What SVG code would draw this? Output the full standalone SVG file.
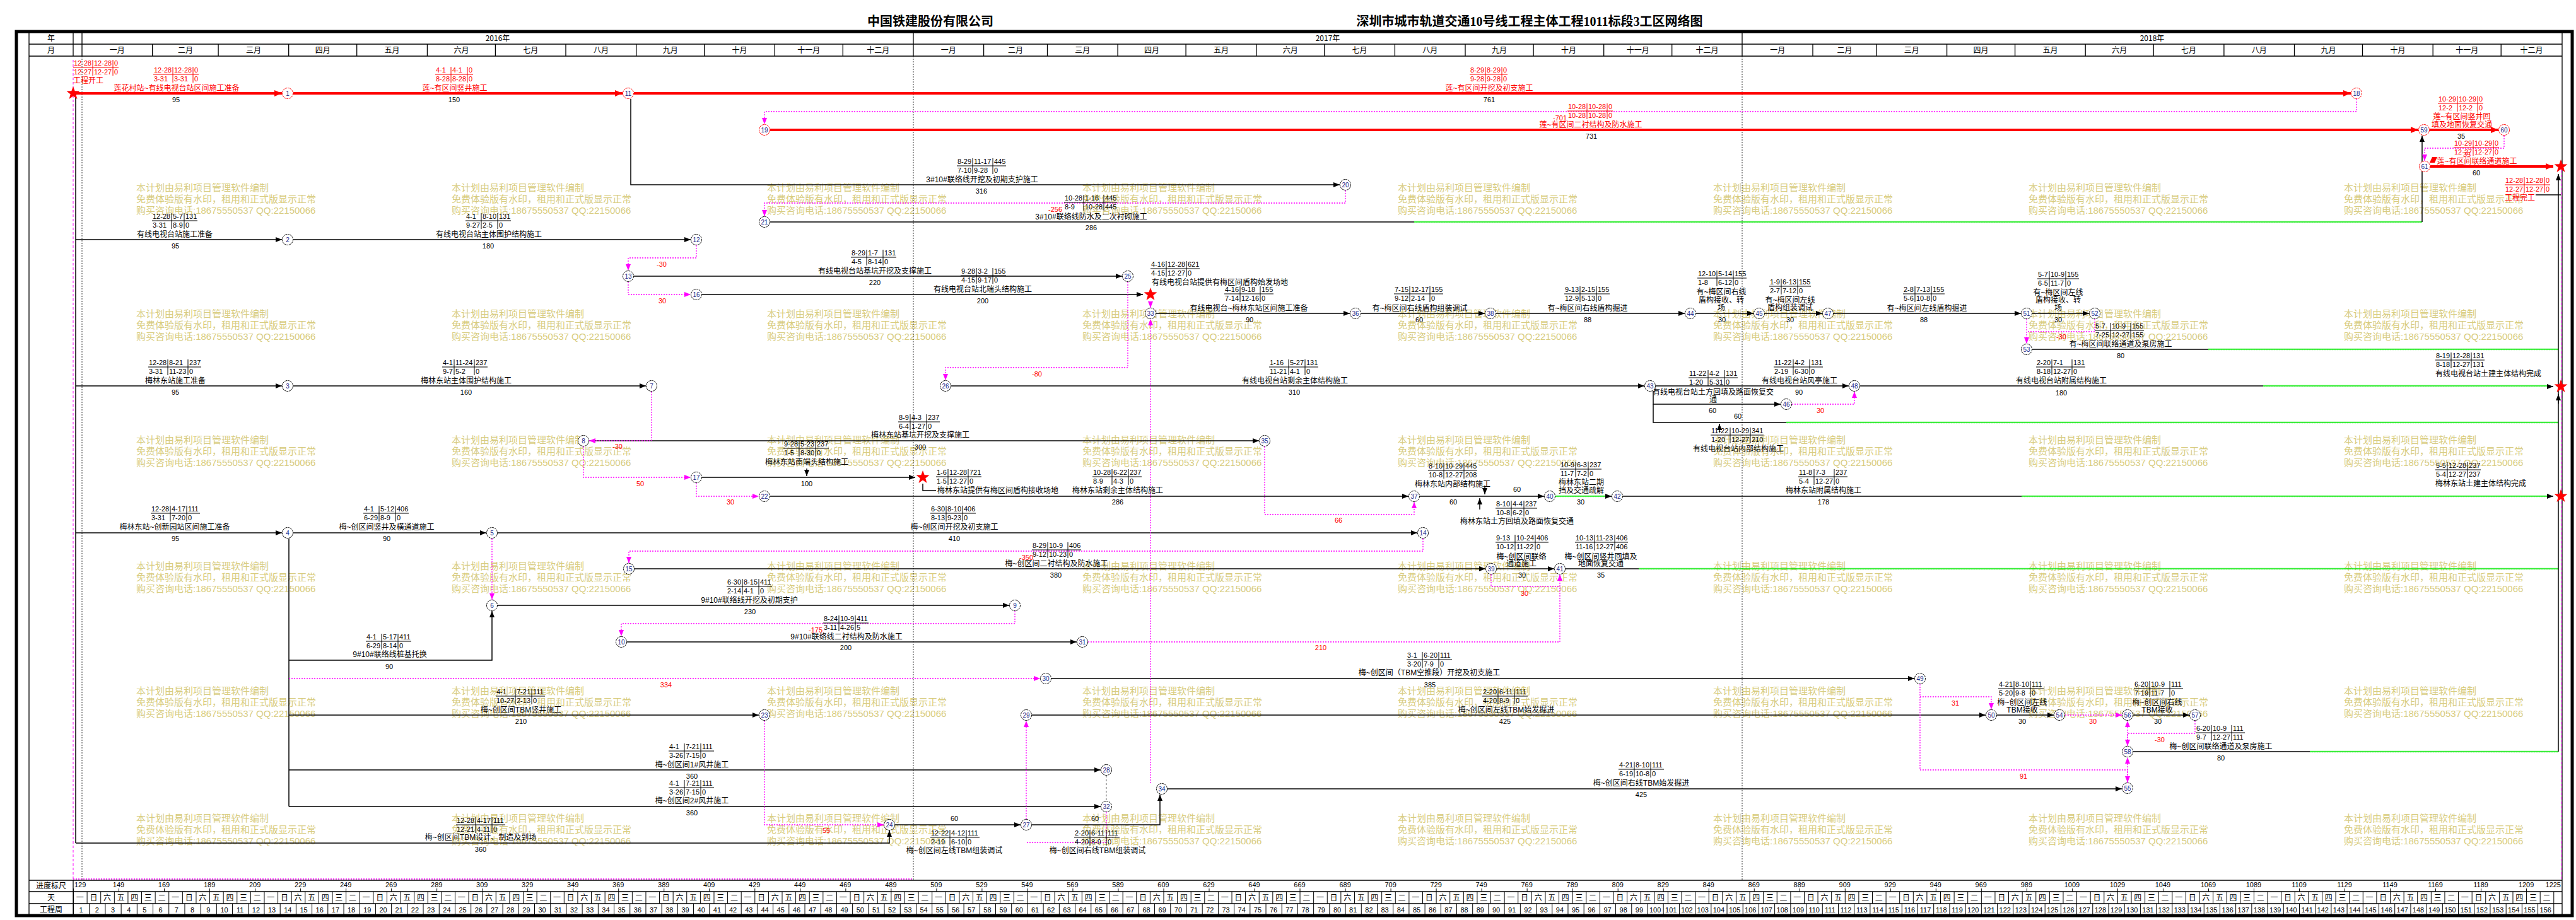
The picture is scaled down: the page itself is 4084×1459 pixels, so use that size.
<svg xmlns="http://www.w3.org/2000/svg" width="4084" height="1459" viewBox="0 0 4084 1459">
<style>
text{font-family:"Liberation Sans","Noto Sans CJK SC",sans-serif}
.l{font-size:12px;text-anchor:middle;fill:#000}
.ls{font-size:12px;fill:#000}
.r{fill:#f00}
.d{font-size:11px;text-anchor:middle;fill:#000}
.g{font-size:11px;text-anchor:middle;fill:#f00}
.tb path{stroke:#000;stroke-width:1;fill:none}
.tb text{font-size:11px;fill:#000}
.tbr path{stroke:#f00}
.tbr text{fill:#f00}
.nd circle{fill:#fff;stroke:#000;stroke-width:1;stroke-dasharray:3 1}
.nr circle{stroke:#f00}
.nd text{font-size:10px;text-anchor:middle;fill:#1a2a8a}
.a{fill:none;stroke:#000;stroke-width:1.5}
.c{fill:none;stroke:#f00;stroke-width:4}
.v{fill:none;stroke:#f0f;stroke-width:1.3;stroke-dasharray:2 2}
.dg{fill:none;stroke:#666;stroke-width:1;stroke-dasharray:3 3}
.h{font-size:12px;text-anchor:middle;fill:#000;font-family:"Noto Sans CJK SC",sans-serif}
.ln{stroke:#000;stroke-width:1.3;fill:none}
.yl{stroke:#000;stroke-width:0.8;stroke-dasharray:2 2;fill:none}
</style>
<defs>
<marker id="ab" viewBox="0 0 10 8" refX="10" refY="4" markerWidth="10" markerHeight="8" markerUnits="userSpaceOnUse" orient="auto"><path d="M0,0L10,4L0,8z" fill="#000"/></marker>
<marker id="ar" viewBox="0 0 12 10" refX="12" refY="5" markerWidth="12" markerHeight="10" markerUnits="userSpaceOnUse" orient="auto"><path d="M0,0L12,5L0,10z" fill="#f00"/></marker>
<marker id="am" viewBox="0 0 10 8" refX="10" refY="4" markerWidth="10" markerHeight="8" markerUnits="userSpaceOnUse" orient="auto"><path d="M0,0L10,4L0,8z" fill="#f0f"/></marker>
<polygon id="st" points="0,-11 2.65,-3.64 10.46,-3.4 4.28,1.39 6.47,8.9 0,4.5 -6.47,8.9 -4.28,1.39 -10.46,-3.4 -2.65,-3.64" fill="#f00"/>
<pattern id="wv" patternUnits="userSpaceOnUse" x="0" y="-2" width="4" height="4"><path d="M0,3.2L1,0.8L2,3.2L3,0.8L4,3.2" fill="none" stroke="#00e600" stroke-width="0.9"/></pattern>
<pattern id="pd" patternUnits="userSpaceOnUse" x="116" y="0" width="21.606" height="1459"><path d="M0.5,0V1459" stroke="#000" stroke-width="1"/></pattern>
<pattern id="pw" patternUnits="userSpaceOnUse" x="116" y="0" width="25.207" height="1459"><path d="M0.5,0V1459" stroke="#000" stroke-width="1"/></pattern>
<pattern id="pt" patternUnits="userSpaceOnUse" x="116" y="0" width="72.02" height="1459"><path d="M0.5,0V1459" stroke="#000" stroke-width="1"/></pattern>
<g id="wm" font-size="15" fill="#d8cc80" font-family="Noto Sans CJK SC, sans-serif"><text y="5">本计划由易利项目管理软件编制</text><text y="23">免费体验版有水印，租用和正式版显示正常</text><text y="41">购买咨询电话:18675550537 QQ:22150066</text></g>
</defs>
<rect width="4084" height="1459" fill="#fff"/>
<g id="watermarks">
<use href="#wm" x="216" y="298"/><use href="#wm" x="716" y="298"/><use href="#wm" x="1216" y="298"/><use href="#wm" x="1716" y="298"/><use href="#wm" x="2216" y="298"/><use href="#wm" x="2716" y="298"/><use href="#wm" x="3216" y="298"/><use href="#wm" x="3716" y="298"/>
<use href="#wm" x="216" y="498"/><use href="#wm" x="716" y="498"/><use href="#wm" x="1216" y="498"/><use href="#wm" x="1716" y="498"/><use href="#wm" x="2216" y="498"/><use href="#wm" x="2716" y="498"/><use href="#wm" x="3216" y="498"/><use href="#wm" x="3716" y="498"/>
<use href="#wm" x="216" y="698"/><use href="#wm" x="716" y="698"/><use href="#wm" x="1216" y="698"/><use href="#wm" x="1716" y="698"/><use href="#wm" x="2216" y="698"/><use href="#wm" x="2716" y="698"/><use href="#wm" x="3216" y="698"/><use href="#wm" x="3716" y="698"/>
<use href="#wm" x="216" y="898"/><use href="#wm" x="716" y="898"/><use href="#wm" x="1216" y="898"/><use href="#wm" x="1716" y="898"/><use href="#wm" x="2216" y="898"/><use href="#wm" x="2716" y="898"/><use href="#wm" x="3216" y="898"/><use href="#wm" x="3716" y="898"/>
<use href="#wm" x="216" y="1096"/><use href="#wm" x="716" y="1096"/><use href="#wm" x="1216" y="1096"/><use href="#wm" x="1716" y="1096"/><use href="#wm" x="2216" y="1096"/><use href="#wm" x="2716" y="1096"/><use href="#wm" x="3216" y="1096"/><use href="#wm" x="3716" y="1096"/>
<use href="#wm" x="216" y="1298"/><use href="#wm" x="716" y="1298"/><use href="#wm" x="1216" y="1298"/><use href="#wm" x="1716" y="1298"/><use href="#wm" x="2216" y="1298"/><use href="#wm" x="2716" y="1298"/><use href="#wm" x="3216" y="1298"/><use href="#wm" x="3716" y="1298"/>
</g>
<g id="title">
<text x="1475" y="41" style="font-size:20px;font-weight:bold;text-anchor:middle;font-family:'Liberation Serif','Noto Sans CJK SC',serif">中国铁建股份有限公司</text>
<text x="2425" y="41" style="font-size:20px;font-weight:bold;text-anchor:middle;font-family:'Liberation Serif','Noto Sans CJK SC',serif">深圳市城市轨道交通10号线工程主体工程1011标段3工区网络图</text>
</g>
<g id="frame">
<rect x="26" y="50" width="4052" height="1402" fill="none" stroke="#000" stroke-width="5"/>
<path class="ln" d="M46,52V1452M4062,52V1452M46,70H4062M46,89H4062M116,52V89M130,52V89M1448,52V89M2762,52V89"/>
<path class="ln" d="M241.6,70V89M346.1,70V89M457.7,70V89M565.7,70V89M677.4,70V89M785.4,70V89M897,70V89M1008.7,70V89M1116.7,70V89M1228.3,70V89M1336.3,70V89M1559.6,70V89M1660.5,70V89M1772.1,70V89M1880.1,70V89M1991.8,70V89M2099.8,70V89M2211.4,70V89M2323,70V89M2431.1,70V89M2542.7,70V89M2650.7,70V89M2874,70V89M2974.9,70V89M3086.6,70V89M3194.6,70V89M3306.2,70V89M3414.2,70V89M3525.9,70V89M3637.5,70V89M3745.5,70V89M3857.2,70V89M3965.2,70V89"/>
<text class="h" x="81" y="65">年</text><text class="h" x="81" y="84">月</text>
<text class="h" y="65"><tspan x="789">2016年</tspan><tspan x="2105">2017年</tspan><tspan x="3412">2018年</tspan></text>
<text class="h" y="84"><tspan x="185.8">一月</tspan><tspan x="293.9">二月</tspan><tspan x="401.9">三月</tspan><tspan x="511.7">四月</tspan><tspan x="621.6">五月</tspan><tspan x="731.4">六月</tspan><tspan x="841.2">七月</tspan><tspan x="952.9">八月</tspan><tspan x="1062.7">九月</tspan><tspan x="1172.5">十月</tspan><tspan x="1282.3">十一月</tspan><tspan x="1392.2">十二月</tspan><tspan x="1503.8">一月</tspan><tspan x="1610.1">二月</tspan><tspan x="1716.3">三月</tspan><tspan x="1826.1">四月</tspan><tspan x="1936">五月</tspan><tspan x="2045.8">六月</tspan><tspan x="2155.6">七月</tspan><tspan x="2267.2">八月</tspan><tspan x="2377.1">九月</tspan><tspan x="2486.9">十月</tspan><tspan x="2596.7">十一月</tspan><tspan x="2706.6">十二月</tspan><tspan x="2818.2">一月</tspan><tspan x="2924.5">二月</tspan><tspan x="3030.8">三月</tspan><tspan x="3140.6">四月</tspan><tspan x="3250.4">五月</tspan><tspan x="3360.2">六月</tspan><tspan x="3470.1">七月</tspan><tspan x="3581.7">八月</tspan><tspan x="3691.5">九月</tspan><tspan x="3801.4">十月</tspan><tspan x="3911.2">十一月</tspan><tspan x="4013.6">十二月</tspan></text>
<path class="yl" d="M130,89V1396M1448,89V1396M2762,89V1396"/>
<path d="M116,95V1396M4061,270V1396" fill="none" stroke="#f0f" stroke-width="1" stroke-dasharray="4 3"/>
</g>
<g id="timescale">
<path class="ln" d="M46,1396H4062M46,1414H4062M46,1433H4062M116,1396V1452"/>
<path d="M116,1394H1448" fill="none" stroke="#f0f" stroke-width="1.3" stroke-dasharray="2 2"/>
<rect x="116" y="1414" width="3946" height="19" fill="url(#pd)"/>
<rect x="116" y="1433" width="3946" height="19" fill="url(#pw)"/>
<rect x="116" y="1409" width="3946" height="5" fill="url(#pt)"/>
<text class="h" x="81" y="1409">进度标尺</text><text class="h" x="81" y="1428">天</text><text class="h" x="81" y="1447">工程周</text>
<text x="118" y="1407" style="font-size:11px">129</text>
<text x="4060" y="1407" style="font-size:11px;text-anchor:end">1225</text>
<text class="d" y="1407"><tspan x="188">149</tspan><tspan x="260">169</tspan><tspan x="332.1">189</tspan><tspan x="404.1">209</tspan><tspan x="476.1">229</tspan><tspan x="548.1">249</tspan><tspan x="620.1">269</tspan><tspan x="692.2">289</tspan><tspan x="764.2">309</tspan><tspan x="836.2">329</tspan><tspan x="908.2">349</tspan><tspan x="980.2">369</tspan><tspan x="1052.3">389</tspan><tspan x="1124.3">409</tspan><tspan x="1196.3">429</tspan><tspan x="1268.3">449</tspan><tspan x="1340.3">469</tspan><tspan x="1412.4">489</tspan><tspan x="1484.4">509</tspan><tspan x="1556.4">529</tspan><tspan x="1628.4">549</tspan><tspan x="1700.4">569</tspan><tspan x="1772.5">589</tspan><tspan x="1844.5">609</tspan><tspan x="1916.5">629</tspan><tspan x="1988.5">649</tspan><tspan x="2060.5">669</tspan><tspan x="2132.6">689</tspan><tspan x="2204.6">709</tspan><tspan x="2276.6">729</tspan><tspan x="2348.6">749</tspan><tspan x="2420.6">769</tspan><tspan x="2492.7">789</tspan><tspan x="2564.7">809</tspan><tspan x="2636.7">829</tspan><tspan x="2708.7">849</tspan><tspan x="2780.7">869</tspan><tspan x="2852.8">889</tspan><tspan x="2924.8">909</tspan><tspan x="2996.8">929</tspan><tspan x="3068.8">949</tspan><tspan x="3140.8">969</tspan><tspan x="3212.9">989</tspan><tspan x="3284.9">1009</tspan><tspan x="3356.9">1029</tspan><tspan x="3428.9">1049</tspan><tspan x="3500.9">1069</tspan><tspan x="3573">1089</tspan><tspan x="3645">1109</tspan><tspan x="3717">1129</tspan><tspan x="3789">1149</tspan><tspan x="3861">1169</tspan><tspan x="3933.1">1189</tspan><tspan x="4005.1">1209</tspan></text>
<text x="120.8" y="1428" style="font-size:12px;letter-spacing:9.606px;font-family:'Noto Sans CJK SC',sans-serif">一日六五四三二一日六五四三二一日六五四三二一日六五四三二一日六五四三二一日六五四三二一日六五四三二一日六五四三二一日六五四三二一日六五四三二一日六五四三二一日六五四三二一日六五四三二一日六五四三二一日六五四三二一日六五四三二一日六五四三二一日六五四三二一日六五四三二一日六五四三二一日六五四三二一日六五四三二一日六五四三二一日六五四三二一日六五四三二一日六五四三二</text>
<text class="d" y="1447"><tspan x="128.6">1</tspan><tspan x="153.8">2</tspan><tspan x="179">3</tspan><tspan x="204.2">4</tspan><tspan x="229.4">5</tspan><tspan x="254.6">6</tspan><tspan x="279.9">7</tspan><tspan x="305.1">8</tspan><tspan x="330.3">9</tspan><tspan x="355.5">10</tspan><tspan x="380.7">11</tspan><tspan x="405.9">12</tspan><tspan x="431.1">13</tspan><tspan x="456.3">14</tspan><tspan x="481.5">15</tspan><tspan x="506.7">16</tspan><tspan x="531.9">17</tspan><tspan x="557.1">18</tspan><tspan x="582.3">19</tspan><tspan x="607.5">20</tspan><tspan x="632.7">21</tspan><tspan x="657.9">22</tspan><tspan x="683.2">23</tspan><tspan x="708.4">24</tspan><tspan x="733.6">25</tspan><tspan x="758.8">26</tspan><tspan x="784">27</tspan><tspan x="809.2">28</tspan><tspan x="834.4">29</tspan><tspan x="859.6">30</tspan><tspan x="884.8">31</tspan><tspan x="910">32</tspan><tspan x="935.2">33</tspan><tspan x="960.4">34</tspan><tspan x="985.6">35</tspan><tspan x="1010.9">36</tspan><tspan x="1036.1">37</tspan><tspan x="1061.3">38</tspan><tspan x="1086.5">39</tspan><tspan x="1111.7">40</tspan><tspan x="1136.9">41</tspan><tspan x="1162.1">42</tspan><tspan x="1187.3">43</tspan><tspan x="1212.5">44</tspan><tspan x="1237.7">45</tspan><tspan x="1262.9">46</tspan><tspan x="1288.1">47</tspan><tspan x="1313.3">48</tspan><tspan x="1338.5">49</tspan><tspan x="1363.8">50</tspan><tspan x="1389">51</tspan><tspan x="1414.2">52</tspan><tspan x="1439.4">53</tspan><tspan x="1464.6">54</tspan><tspan x="1489.8">55</tspan><tspan x="1515">56</tspan><tspan x="1540.2">57</tspan><tspan x="1565.4">58</tspan><tspan x="1590.6">59</tspan><tspan x="1615.8">60</tspan><tspan x="1641">61</tspan><tspan x="1666.2">62</tspan><tspan x="1691.4">63</tspan><tspan x="1716.6">64</tspan><tspan x="1741.9">65</tspan><tspan x="1767.1">66</tspan><tspan x="1792.3">67</tspan><tspan x="1817.5">68</tspan><tspan x="1842.7">69</tspan><tspan x="1867.9">70</tspan><tspan x="1893.1">71</tspan><tspan x="1918.3">72</tspan><tspan x="1943.5">73</tspan><tspan x="1968.7">74</tspan><tspan x="1993.9">75</tspan><tspan x="2019.1">76</tspan><tspan x="2044.3">77</tspan><tspan x="2069.5">78</tspan><tspan x="2094.8">79</tspan><tspan x="2120">80</tspan><tspan x="2145.2">81</tspan><tspan x="2170.4">82</tspan><tspan x="2195.6">83</tspan><tspan x="2220.8">84</tspan><tspan x="2246">85</tspan><tspan x="2271.2">86</tspan><tspan x="2296.4">87</tspan><tspan x="2321.6">88</tspan><tspan x="2346.8">89</tspan><tspan x="2372">90</tspan><tspan x="2397.2">91</tspan><tspan x="2422.4">92</tspan><tspan x="2447.7">93</tspan><tspan x="2472.9">94</tspan><tspan x="2498.1">95</tspan><tspan x="2523.3">96</tspan><tspan x="2548.5">97</tspan><tspan x="2573.7">98</tspan><tspan x="2598.9">99</tspan><tspan x="2624.1">100</tspan><tspan x="2649.3">101</tspan><tspan x="2674.5">102</tspan><tspan x="2699.7">103</tspan><tspan x="2724.9">104</tspan><tspan x="2750.1">105</tspan><tspan x="2775.3">106</tspan><tspan x="2800.6">107</tspan><tspan x="2825.8">108</tspan><tspan x="2851">109</tspan><tspan x="2876.2">110</tspan><tspan x="2901.4">111</tspan><tspan x="2926.6">112</tspan><tspan x="2951.8">113</tspan><tspan x="2977">114</tspan><tspan x="3002.2">115</tspan><tspan x="3027.4">116</tspan><tspan x="3052.6">117</tspan><tspan x="3077.8">118</tspan><tspan x="3103">119</tspan><tspan x="3128.2">120</tspan><tspan x="3153.4">121</tspan><tspan x="3178.7">122</tspan><tspan x="3203.9">123</tspan><tspan x="3229.1">124</tspan><tspan x="3254.3">125</tspan><tspan x="3279.5">126</tspan><tspan x="3304.7">127</tspan><tspan x="3329.9">128</tspan><tspan x="3355.1">129</tspan><tspan x="3380.3">130</tspan><tspan x="3405.5">131</tspan><tspan x="3430.7">132</tspan><tspan x="3455.9">133</tspan><tspan x="3481.1">134</tspan><tspan x="3506.3">135</tspan><tspan x="3531.6">136</tspan><tspan x="3556.8">137</tspan><tspan x="3582">138</tspan><tspan x="3607.2">139</tspan><tspan x="3632.4">140</tspan><tspan x="3657.6">141</tspan><tspan x="3682.8">142</tspan><tspan x="3708">143</tspan><tspan x="3733.2">144</tspan><tspan x="3758.4">145</tspan><tspan x="3783.6">146</tspan><tspan x="3808.8">147</tspan><tspan x="3834">148</tspan><tspan x="3859.2">149</tspan><tspan x="3884.5">150</tspan><tspan x="3909.7">151</tspan><tspan x="3934.9">152</tspan><tspan x="3960.1">153</tspan><tspan x="3985.3">154</tspan><tspan x="4010.5">155</tspan><tspan x="4035.7">156</tspan></text>
</g>
<g id="connectors">
<g id="critical">
<path class="c" marker-end="url(#ar)" d="M116,148H447"/>
<path class="c" marker-end="url(#ar)" d="M465,148H987"/>
<path class="c" marker-end="url(#ar)" d="M1005,148H3727"/>
<path class="c" marker-end="url(#ar)" d="M1221,206H3834"/>
<path class="c" marker-end="url(#ar)" d="M3852,206H3961"/>
<path class="c" marker-end="url(#ar)" d="M3853,264H4048"/>
</g>
<g id="float">
<rect transform="translate(0,352)" x="2242" y="-2" width="1598" height="4" fill="url(#wv)"/>
<rect transform="translate(0,554)" x="3501" y="-2" width="555" height="4" fill="url(#wv)"/>
<rect transform="translate(0,612)" x="3588" y="-2" width="452" height="4" fill="url(#wv)"/>
<rect transform="translate(0,670)" x="2832" y="-2" width="1224" height="4" fill="url(#wv)"/>
<rect transform="translate(0,787)" x="2466" y="-2" width="82" height="4" fill="url(#wv)"/>
<rect transform="translate(0,787)" x="3205" y="-2" width="835" height="4" fill="url(#wv)"/>
<rect transform="translate(0,902)" x="2598" y="-2" width="1458" height="4" fill="url(#wv)"/>
<rect transform="translate(0,1192)" x="3662" y="-2" width="394" height="4" fill="url(#wv)"/>
</g>
<g id="work">
<path class="a" d="M120,148V1337"/>
<path class="a" marker-end="url(#ab)" d="M120,380H447"/>
<path class="a" marker-end="url(#ab)" d="M465,380H1095"/>
<path class="a" marker-end="url(#ab)" d="M1000,157V293H2124"/>
<path class="a" d="M1221,352H2242"/>
<path class="a" marker-end="url(#ab)" d="M3840,352V215"/>
<path class="a" marker-end="url(#ab)" d="M1005,438H1779"/>
<path class="a" marker-end="url(#ab)" d="M1113,467H1812"/>
<path class="a" marker-end="url(#ab)" d="M1833,497H2140"/>
<path class="a" marker-end="url(#ab)" d="M2158,497H2354"/>
<path class="a" marker-end="url(#ab)" d="M2372,497H2671"/>
<path class="a" marker-end="url(#ab)" d="M2689,497H2780"/>
<path class="a" marker-end="url(#ab)" d="M2798,497H2889"/>
<path class="a" marker-end="url(#ab)" d="M2907,497H3204"/>
<path class="a" marker-end="url(#ab)" d="M3222,497H3312"/>
<path class="a" d="M3222,554H3501"/>
<path class="a" marker-end="url(#ab)" d="M120,612H447"/>
<path class="a" marker-end="url(#ab)" d="M465,612H1024"/>
<path class="a" marker-end="url(#ab)" d="M1508,612H2607"/>
<path class="a" marker-end="url(#ab)" d="M2625,612H2931"/>
<path class="a" marker-end="url(#ab)" d="M2621,620V641H2823"/>
<path class="a" d="M2621,641V670H2832"/>
<path class="a" d="M2949,612H3588"/>
<path class="a" marker-end="url(#ab)" d="M4038,613H4048"/>
<path class="a" marker-end="url(#ab)" d="M934,699H1996"/>
<path class="a" marker-end="url(#ab)" d="M1113,757H1451"/>
<path class="a" d="M1463,767V778H1484"/>
<path class="a" marker-end="url(#ab)" d="M1221,787H2233"/>
<path class="a" marker-end="url(#ab)" d="M2251,787H2448"/>
<path class="a" marker-end="url(#ab)" d="M2346,808V790"/>
<path class="a" marker-end="url(#ab)" d="M2354,770V784"/>
<path class="a" marker-end="url(#ab)" d="M2545,787H2555"/>
<path class="a" d="M2573,787H3205"/>
<path class="a" marker-end="url(#ab)" d="M4038,787H4048"/>
<path class="a" marker-end="url(#ab)" d="M120,845H447"/>
<path class="a" marker-end="url(#ab)" d="M465,845H771"/>
<path class="a" marker-end="url(#ab)" d="M789,845H2247"/>
<path class="a" marker-end="url(#ab)" d="M1006,902H2355"/>
<path class="a" marker-end="url(#ab)" d="M2373,902H2464"/>
<path class="a" d="M2482,902H2598"/>
<path class="a" d="M458,854V1279"/>
<path class="a" marker-end="url(#ab)" d="M458,1047H780V969"/>
<path class="a" marker-end="url(#ab)" d="M789,960H1600"/>
<path class="a" marker-end="url(#ab)" d="M994,1018H1707"/>
<path class="a" marker-end="url(#ab)" d="M1667,1076H3035"/>
<path class="a" marker-end="url(#ab)" d="M458,1134H1203"/>
<path class="a" marker-end="url(#ab)" d="M1636,1134H3148"/>
<path class="a" marker-end="url(#ab)" d="M3166,1134H3256"/>
<path class="a" marker-end="url(#ab)" d="M3382,1134H3471"/>
<path class="a" d="M3382,1192H3662"/>
<path class="a" marker-end="url(#ab)" d="M458,1221H1745"/>
<path class="a" marker-end="url(#ab)" d="M1851,1251H3364"/>
<path class="a" marker-end="url(#ab)" d="M458,1279H1745"/>
<path class="a" marker-end="url(#ab)" d="M120,1337H1410V1317"/>
<path class="a" marker-end="url(#ab)" d="M1419,1308H1618"/>
<path class="a" marker-end="url(#ab)" d="M1636,1308H1839V1260"/>
<path class="a" marker-end="url(#ab)" d="M4056,1192V276"/>
<path class="a" marker-end="url(#ab)" d="M4056,640V625"/>
<path class="a" d="M4020,309H4060"/>
<path class="a" marker-end="url(#ab)" d="M2726,686V672"/>
<path class="a" marker-end="url(#ab)" d="M1279,743V755"/>
</g>
<g id="virtual">
<path class="v" marker-end="url(#am)" d="M3736,157V177H1212V197"/>
<path class="v" marker-end="url(#am)" d="M3970,215V235H3844V255"/>
<path class="v" marker-end="url(#am)" d="M2133,302V322H1212V343"/>
<path class="v" marker-end="url(#am)" d="M1104,389V409H996V429"/>
<path class="v" marker-end="url(#am)" d="M996,447V467H1095"/>
<path class="v" marker-end="url(#am)" d="M1788,447V583H1499V603"/>
<path class="v" marker-end="url(#am)" d="M1824,478V488"/>
<path class="v" marker-end="url(#am)" d="M1824,1242V506"/>
<path class="v" marker-end="url(#am)" d="M1033,621V699H934"/>
<path class="v" marker-end="url(#am)" d="M925,708V757H1095"/>
<path class="v" marker-end="url(#am)" d="M1104,766V787H1203"/>
<path class="v" marker-end="url(#am)" d="M2005,708V816H2242V796"/>
<path class="v" marker-end="url(#am)" d="M2841,641H2940V621"/>
<path class="v" marker-end="url(#am)" d="M3321,506V526H3213V545"/>
<path class="v" d="M3213,506V526"/>
<path class="v" marker-end="url(#am)" d="M2256,854V874H997V893"/>
<path class="v" marker-end="url(#am)" d="M780,854V951"/>
<path class="v" marker-end="url(#am)" d="M458,1076H1649"/>
<path class="v" marker-end="url(#am)" d="M1609,969V989H985V1009"/>
<path class="v" marker-end="url(#am)" d="M1725,1018H2473V911"/>
<path class="v" d="M2364,911V930H2473"/>
<path class="v" marker-end="url(#am)" d="M1212,1143V1308H1401"/>
<path class="v" marker-end="url(#am)" d="M1627,1299V1143"/>
<path class="v" marker-end="url(#am)" d="M3044,1085V1105H3157V1125"/>
<path class="v" marker-end="url(#am)" d="M3044,1105V1221H3373V1241"/>
<path class="v" marker-end="url(#am)" d="M3274,1134H3364"/>
<path class="v" marker-end="url(#am)" d="M3480,1143V1163H3373V1183"/>
<path class="v" marker-end="url(#am)" d="M3373,1183V1143"/>
<path class="v" marker-end="url(#am)" d="M3373,1241V1201"/>
<path class="v" d="M1754,1288V1336H1627"/>
<path class="dg" d="M1754,1230V1270"/>
</g>
</g>
<g id="tables">
<g class="tb tbr" transform="translate(116,107)"><path d="M0,0H72M31,-12V13M63,-12V13"/><text x="1" y="-3">12-28</text><text x="33" y="-3">12-28</text><text x="65" y="-3">0</text><text x="1" y="11">12-27</text><text x="33" y="11">12-27</text><text x="65" y="11">0</text></g>
<g class="tb tbr" transform="translate(243,118)"><path d="M0,0H72M31,-12V13M63,-12V13"/><text x="1" y="-3">12-28</text><text x="33" y="-3">12-28</text><text x="65" y="-3">0</text><text x="1" y="11">3-31</text><text x="33" y="11">3-31</text><text x="65" y="11">0</text></g>
<g class="tb tbr" transform="translate(690,118)"><path d="M0,0H60M25,-12V13M51,-12V13"/><text x="1" y="-3">4-1</text><text x="27" y="-3">4-1</text><text x="53" y="-3">0</text><text x="1" y="11">8-28</text><text x="27" y="11">8-28</text><text x="53" y="11">0</text></g>
<g class="tb tbr" transform="translate(2330,118)"><path d="M0,0H60M25,-12V13M51,-12V13"/><text x="1" y="-3">8-29</text><text x="27" y="-3">8-29</text><text x="53" y="-3">0</text><text x="1" y="11">9-28</text><text x="27" y="11">9-28</text><text x="53" y="11">0</text></g>
<g class="tb tbr" transform="translate(2485,176)"><path d="M0,0H72M31,-12V13M63,-12V13"/><text x="1" y="-3">10-28</text><text x="33" y="-3">10-28</text><text x="65" y="-3">0</text><text x="1" y="11">10-28</text><text x="33" y="11">10-28</text><text x="65" y="11">0</text></g>
<g class="tb tbr" transform="translate(3865,164)"><path d="M0,0H72M31,-12V13M63,-12V13"/><text x="1" y="-3">10-29</text><text x="33" y="-3">10-29</text><text x="65" y="-3">0</text><text x="1" y="11">12-2</text><text x="33" y="11">12-2</text><text x="65" y="11">0</text></g>
<g class="tb tbr" transform="translate(3890,234)"><path d="M0,0H72M31,-12V13M63,-12V13"/><text x="1" y="-3">10-29</text><text x="33" y="-3">10-29</text><text x="65" y="-3">0</text><text x="1" y="11">12-27</text><text x="33" y="11">12-27</text><text x="65" y="11">0</text></g>
<g class="tb tbr" transform="translate(3971,293)"><path d="M0,0H72M31,-12V13M63,-12V13"/><text x="1" y="-3">12-28</text><text x="33" y="-3">12-28</text><text x="65" y="-3">0</text><text x="1" y="11">12-27</text><text x="33" y="11">12-27</text><text x="65" y="11">0</text></g>
<g class="tb" transform="translate(1517,263)"><path d="M0,0H78M25,-12V13M57,-12V13"/><text x="1" y="-3">8-29</text><text x="27" y="-3">11-17</text><text x="59" y="-3">445</text><text x="1" y="11">7-10</text><text x="27" y="11">9-28</text><text x="59" y="11">0</text></g>
<g class="tb" transform="translate(1687,321)"><path d="M0,0H84M31,-12V13M63,-12V13"/><text x="1" y="-3">10-28</text><text x="33" y="-3">1-16</text><text x="65" y="-3">445</text><text x="1" y="11">8-9</text><text x="33" y="11">10-28</text><text x="65" y="11">445</text></g>
<g class="tb" transform="translate(241,350)"><path d="M0,0H72M31,-12V13M51,-12V13"/><text x="1" y="-3">12-28</text><text x="33" y="-3">5-7</text><text x="53" y="-3">131</text><text x="1" y="11">3-31</text><text x="33" y="11">8-9</text><text x="53" y="11">0</text></g>
<g class="tb" transform="translate(738,350)"><path d="M0,0H72M25,-12V13M51,-12V13"/><text x="1" y="-3">4-1</text><text x="27" y="-3">8-10</text><text x="53" y="-3">131</text><text x="1" y="11">9-27</text><text x="27" y="11">2-5</text><text x="53" y="11">0</text></g>
<g class="tb" transform="translate(1349,408)"><path d="M0,0H72M25,-12V13M51,-12V13"/><text x="1" y="-3">8-29</text><text x="27" y="-3">1-7</text><text x="53" y="-3">131</text><text x="1" y="11">4-5</text><text x="27" y="11">8-14</text><text x="53" y="11">0</text></g>
<g class="tb" transform="translate(1523,437)"><path d="M0,0H72M25,-12V13M51,-12V13"/><text x="1" y="-3">9-28</text><text x="27" y="-3">3-2</text><text x="53" y="-3">155</text><text x="1" y="11">4-15</text><text x="27" y="11">9-17</text><text x="53" y="11">0</text></g>
<g class="tb" transform="translate(1824,426)"><path d="M0,0H78M25,-12V13M57,-12V13"/><text x="1" y="-3">4-16</text><text x="27" y="-3">12-28</text><text x="59" y="-3">621</text><text x="1" y="11">4-15</text><text x="27" y="11">12-27</text><text x="59" y="11">0</text></g>
<g class="tb" transform="translate(1941,466)"><path d="M0,0H78M25,-12V13M57,-12V13"/><text x="1" y="-3">4-16</text><text x="27" y="-3">9-18</text><text x="59" y="-3">155</text><text x="1" y="11">7-14</text><text x="27" y="11">12-16</text><text x="59" y="11">0</text></g>
<g class="tb" transform="translate(2210,466)"><path d="M0,0H78M25,-12V13M57,-12V13"/><text x="1" y="-3">7-15</text><text x="27" y="-3">12-17</text><text x="59" y="-3">155</text><text x="1" y="11">9-12</text><text x="27" y="11">2-14</text><text x="59" y="11">0</text></g>
<g class="tb" transform="translate(2480,466)"><path d="M0,0H72M25,-12V13M51,-12V13"/><text x="1" y="-3">9-13</text><text x="27" y="-3">2-15</text><text x="53" y="-3">155</text><text x="1" y="11">12-9</text><text x="27" y="11">5-13</text><text x="53" y="11">0</text></g>
<g class="tb" transform="translate(2691,441)"><path d="M0,0H78M31,-12V13M57,-12V13"/><text x="1" y="-3">12-10</text><text x="33" y="-3">5-14</text><text x="59" y="-3">155</text><text x="1" y="11">1-8</text><text x="33" y="11">6-12</text><text x="59" y="11">0</text></g>
<g class="tb" transform="translate(2805,454)"><path d="M0,0H66M19,-12V13M45,-12V13"/><text x="1" y="-3">1-9</text><text x="21" y="-3">6-13</text><text x="47" y="-3">155</text><text x="1" y="11">2-7</text><text x="21" y="11">7-12</text><text x="47" y="11">0</text></g>
<g class="tb" transform="translate(3017,466)"><path d="M0,0H66M19,-12V13M45,-12V13"/><text x="1" y="-3">2-8</text><text x="21" y="-3">7-13</text><text x="47" y="-3">155</text><text x="1" y="11">5-6</text><text x="21" y="11">10-8</text><text x="47" y="11">0</text></g>
<g class="tb" transform="translate(3230,442)"><path d="M0,0H66M19,-12V13M45,-12V13"/><text x="1" y="-3">5-7</text><text x="21" y="-3">10-9</text><text x="47" y="-3">155</text><text x="1" y="11">6-5</text><text x="21" y="11">11-7</text><text x="47" y="11">0</text></g>
<g class="tb" transform="translate(3321,524)"><path d="M0,0H78M25,-12V13M57,-12V13"/><text x="1" y="-3">5-7</text><text x="27" y="-3">10-9</text><text x="59" y="-3">155</text><text x="1" y="11">7-25</text><text x="27" y="11">12-27</text><text x="59" y="11">155</text></g>
<g class="tb" transform="translate(235,582)"><path d="M0,0H84M31,-12V13M63,-12V13"/><text x="1" y="-3">12-28</text><text x="33" y="-3">8-21</text><text x="65" y="-3">237</text><text x="1" y="11">3-31</text><text x="33" y="11">11-23</text><text x="65" y="11">0</text></g>
<g class="tb" transform="translate(701,582)"><path d="M0,0H72M19,-12V13M51,-12V13"/><text x="1" y="-3">4-1</text><text x="21" y="-3">11-24</text><text x="53" y="-3">237</text><text x="1" y="11">9-7</text><text x="21" y="11">5-2</text><text x="53" y="11">0</text></g>
<g class="tb" transform="translate(2012,582)"><path d="M0,0H78M31,-12V13M57,-12V13"/><text x="1" y="-3">1-16</text><text x="33" y="-3">5-27</text><text x="59" y="-3">131</text><text x="1" y="11">11-21</text><text x="33" y="11">4-1</text><text x="59" y="11">0</text></g>
<g class="tb" transform="translate(2812,582)"><path d="M0,0H78M31,-12V13M57,-12V13"/><text x="1" y="-3">11-22</text><text x="33" y="-3">4-2</text><text x="59" y="-3">131</text><text x="1" y="11">2-19</text><text x="33" y="11">6-30</text><text x="59" y="11">0</text></g>
<g class="tb" transform="translate(2677,599)"><path d="M0,0H78M31,-12V13M57,-12V13"/><text x="1" y="-3">11-22</text><text x="33" y="-3">4-2</text><text x="59" y="-3">131</text><text x="1" y="11">1-20</text><text x="33" y="11">5-31</text><text x="59" y="11">0</text></g>
<g class="tb" transform="translate(2712,690)"><path d="M0,0H84M31,-12V13M63,-12V13"/><text x="1" y="-3">11-22</text><text x="33" y="-3">10-29</text><text x="65" y="-3">341</text><text x="1" y="11">1-20</text><text x="33" y="11">12-27</text><text x="65" y="11">210</text></g>
<g class="tb" transform="translate(3228,582)"><path d="M0,0H78M25,-12V13M57,-12V13"/><text x="1" y="-3">2-20</text><text x="27" y="-3">7-1</text><text x="59" y="-3">131</text><text x="1" y="11">8-18</text><text x="27" y="11">12-27</text><text x="59" y="11">0</text></g>
<g class="tb" transform="translate(3861,571)"><path d="M0,0H78M25,-12V13M57,-12V13"/><text x="1" y="-3">8-19</text><text x="27" y="-3">12-28</text><text x="59" y="-3">131</text><text x="1" y="11">8-18</text><text x="27" y="11">12-27</text><text x="59" y="11">131</text></g>
<g class="tb" transform="translate(1424,669)"><path d="M0,0H66M19,-12V13M45,-12V13"/><text x="1" y="-3">8-9</text><text x="21" y="-3">4-3</text><text x="47" y="-3">237</text><text x="1" y="11">6-4</text><text x="21" y="11">1-27</text><text x="47" y="11">0</text></g>
<g class="tb" transform="translate(1242,711)"><path d="M0,0H72M25,-12V13M51,-12V13"/><text x="1" y="-3">9-28</text><text x="27" y="-3">5-23</text><text x="53" y="-3">237</text><text x="1" y="11">1-5</text><text x="27" y="11">8-30</text><text x="53" y="11">0</text></g>
<g class="tb" transform="translate(1484,756)"><path d="M0,0H72M19,-12V13M51,-12V13"/><text x="1" y="-3">1-6</text><text x="21" y="-3">12-28</text><text x="53" y="-3">721</text><text x="1" y="11">1-5</text><text x="21" y="11">12-27</text><text x="53" y="11">0</text></g>
<g class="tb" transform="translate(1732,756)"><path d="M0,0H78M31,-12V13M57,-12V13"/><text x="1" y="-3">10-28</text><text x="33" y="-3">6-22</text><text x="59" y="-3">237</text><text x="1" y="11">8-9</text><text x="33" y="11">4-3</text><text x="59" y="11">0</text></g>
<g class="tb" transform="translate(2264,746)"><path d="M0,0H78M25,-12V13M57,-12V13"/><text x="1" y="-3">8-10</text><text x="27" y="-3">10-29</text><text x="59" y="-3">445</text><text x="1" y="11">10-8</text><text x="27" y="11">12-27</text><text x="59" y="11">208</text></g>
<g class="tb" transform="translate(2371,806)"><path d="M0,0H66M25,-12V13M45,-12V13"/><text x="1" y="-3">8-10</text><text x="27" y="-3">4-4</text><text x="47" y="-3">237</text><text x="1" y="11">10-8</text><text x="27" y="11">6-2</text><text x="47" y="11">0</text></g>
<g class="tb" transform="translate(2473,744)"><path d="M0,0H66M25,-12V13M45,-12V13"/><text x="1" y="-3">10-9</text><text x="27" y="-3">6-3</text><text x="47" y="-3">237</text><text x="1" y="11">11-7</text><text x="27" y="11">7-2</text><text x="47" y="11">0</text></g>
<g class="tb" transform="translate(2851,756)"><path d="M0,0H78M25,-12V13M57,-12V13"/><text x="1" y="-3">11-8</text><text x="27" y="-3">7-3</text><text x="59" y="-3">237</text><text x="1" y="11">5-4</text><text x="27" y="11">12-27</text><text x="59" y="11">0</text></g>
<g class="tb" transform="translate(3861,745)"><path d="M0,0H72M19,-12V13M51,-12V13"/><text x="1" y="-3">5-5</text><text x="21" y="-3">12-28</text><text x="53" y="-3">237</text><text x="1" y="11">5-4</text><text x="21" y="11">12-27</text><text x="53" y="11">237</text></g>
<g class="tb" transform="translate(239,814)"><path d="M0,0H78M31,-12V13M57,-12V13"/><text x="1" y="-3">12-28</text><text x="33" y="-3">4-17</text><text x="59" y="-3">111</text><text x="1" y="11">3-31</text><text x="33" y="11">7-20</text><text x="59" y="11">0</text></g>
<g class="tb" transform="translate(576,814)"><path d="M0,0H72M25,-12V13M51,-12V13"/><text x="1" y="-3">4-1</text><text x="27" y="-3">5-12</text><text x="53" y="-3">406</text><text x="1" y="11">6-29</text><text x="27" y="11">8-9</text><text x="53" y="11">0</text></g>
<g class="tb" transform="translate(1475,814)"><path d="M0,0H72M25,-12V13M51,-12V13"/><text x="1" y="-3">6-30</text><text x="27" y="-3">8-10</text><text x="53" y="-3">406</text><text x="1" y="11">8-13</text><text x="27" y="11">9-23</text><text x="53" y="11">0</text></g>
<g class="tb" transform="translate(1636,872)"><path d="M0,0H78M25,-12V13M57,-12V13"/><text x="1" y="-3">8-29</text><text x="27" y="-3">10-9</text><text x="59" y="-3">406</text><text x="1" y="11">9-12</text><text x="27" y="11">10-23</text><text x="59" y="11">0</text></g>
<g class="tb" transform="translate(2371,860)"><path d="M0,0H84M31,-12V13M63,-12V13"/><text x="1" y="-3">9-13</text><text x="33" y="-3">10-24</text><text x="65" y="-3">406</text><text x="1" y="11">10-12</text><text x="33" y="11">11-22</text><text x="65" y="11">0</text></g>
<g class="tb" transform="translate(2497,860)"><path d="M0,0H84M31,-12V13M63,-12V13"/><text x="1" y="-3">10-13</text><text x="33" y="-3">11-23</text><text x="65" y="-3">406</text><text x="1" y="11">11-16</text><text x="33" y="11">12-27</text><text x="65" y="11">406</text></g>
<g class="tb" transform="translate(580,1017)"><path d="M0,0H72M25,-12V13M51,-12V13"/><text x="1" y="-3">4-1</text><text x="27" y="-3">5-17</text><text x="53" y="-3">411</text><text x="1" y="11">6-29</text><text x="27" y="11">8-14</text><text x="53" y="11">0</text></g>
<g class="tb" transform="translate(1152,930)"><path d="M0,0H72M25,-12V13M51,-12V13"/><text x="1" y="-3">6-30</text><text x="27" y="-3">8-15</text><text x="53" y="-3">411</text><text x="1" y="11">2-14</text><text x="27" y="11">4-1</text><text x="53" y="11">0</text></g>
<g class="tb" transform="translate(1305,988)"><path d="M0,0H72M25,-12V13M51,-12V13"/><text x="1" y="-3">8-24</text><text x="27" y="-3">10-9</text><text x="53" y="-3">411</text><text x="1" y="11">3-11</text><text x="27" y="11">4-26</text><text x="53" y="11">5</text></g>
<g class="tb" transform="translate(2230,1046)"><path d="M0,0H72M25,-12V13M51,-12V13"/><text x="1" y="-3">3-1</text><text x="27" y="-3">6-20</text><text x="53" y="-3">111</text><text x="1" y="11">3-20</text><text x="27" y="11">7-9</text><text x="53" y="11">0</text></g>
<g class="tb" transform="translate(786,1104)"><path d="M0,0H78M31,-12V13M57,-12V13"/><text x="1" y="-3">4-1</text><text x="33" y="-3">7-21</text><text x="59" y="-3">111</text><text x="1" y="11">10-27</text><text x="33" y="11">2-13</text><text x="59" y="11">0</text></g>
<g class="tb" transform="translate(2350,1104)"><path d="M0,0H72M25,-12V13M51,-12V13"/><text x="1" y="-3">2-20</text><text x="27" y="-3">6-11</text><text x="53" y="-3">111</text><text x="1" y="11">4-20</text><text x="27" y="11">8-9</text><text x="53" y="11">0</text></g>
<g class="tb" transform="translate(1060,1191)"><path d="M0,0H72M25,-12V13M51,-12V13"/><text x="1" y="-3">4-1</text><text x="27" y="-3">7-21</text><text x="53" y="-3">111</text><text x="1" y="11">3-26</text><text x="27" y="11">7-15</text><text x="53" y="11">0</text></g>
<g class="tb" transform="translate(1060,1249)"><path d="M0,0H72M25,-12V13M51,-12V13"/><text x="1" y="-3">4-1</text><text x="27" y="-3">7-21</text><text x="53" y="-3">111</text><text x="1" y="11">3-26</text><text x="27" y="11">7-15</text><text x="53" y="11">0</text></g>
<g class="tb" transform="translate(2566,1220)"><path d="M0,0H72M25,-12V13M51,-12V13"/><text x="1" y="-3">4-21</text><text x="27" y="-3">8-10</text><text x="53" y="-3">111</text><text x="1" y="11">6-19</text><text x="27" y="11">10-8</text><text x="53" y="11">0</text></g>
<g class="tb" transform="translate(723,1308)"><path d="M0,0H78M31,-12V13M57,-12V13"/><text x="1" y="-3">12-28</text><text x="33" y="-3">4-17</text><text x="59" y="-3">111</text><text x="1" y="11">12-21</text><text x="33" y="11">4-11</text><text x="59" y="11">0</text></g>
<g class="tb" transform="translate(1475,1328)"><path d="M0,0H78M31,-12V13M57,-12V13"/><text x="1" y="-3">12-22</text><text x="33" y="-3">4-12</text><text x="59" y="-3">111</text><text x="1" y="11">2-19</text><text x="33" y="11">6-10</text><text x="59" y="11">0</text></g>
<g class="tb" transform="translate(1703,1328)"><path d="M0,0H72M25,-12V13M51,-12V13"/><text x="1" y="-3">2-20</text><text x="27" y="-3">6-11</text><text x="53" y="-3">111</text><text x="1" y="11">4-20</text><text x="27" y="11">8-9</text><text x="53" y="11">0</text></g>
<g class="tb" transform="translate(3168,1092)"><path d="M0,0H72M25,-12V13M51,-12V13"/><text x="1" y="-3">4-21</text><text x="27" y="-3">8-10</text><text x="53" y="-3">111</text><text x="1" y="11">5-20</text><text x="27" y="11">9-8</text><text x="53" y="11">0</text></g>
<g class="tb" transform="translate(3383,1092)"><path d="M0,0H78M25,-12V13M57,-12V13"/><text x="1" y="-3">6-20</text><text x="27" y="-3">10-9</text><text x="59" y="-3">111</text><text x="1" y="11">7-19</text><text x="27" y="11">11-7</text><text x="59" y="11">0</text></g>
<g class="tb" transform="translate(3481,1162)"><path d="M0,0H78M25,-12V13M57,-12V13"/><text x="1" y="-3">6-20</text><text x="27" y="-3">10-9</text><text x="59" y="-3">111</text><text x="1" y="11">9-7</text><text x="27" y="11">12-27</text><text x="59" y="11">111</text></g>
</g>
<g id="labels">
<text class="l r" x="280" y="144">莲花村站~有线电视台站区间施工准备</text><text class="d r" x="279" y="162">95</text>
<text class="l r" x="721" y="144">莲~有区间竖井施工</text><text class="d r" x="720" y="162">150</text>
<text class="l r" x="2361" y="144">莲~有区间开挖及初支施工</text><text class="d r" x="2361" y="162">761</text>
<text class="l r" x="2522" y="202">莲~有区间二衬结构及防水施工</text><text class="d r" x="2523" y="220">731</text>
<text class="l r" x="3903" y="189">莲~有区间竖井回</text><text class="l r" x="3903" y="202">填及地面恢复交通</text><text class="d r" x="3902" y="220">35</text>
<text class="l r" x="3927" y="260">莲~有区间联络通道施工</text><text class="d r" x="3926" y="278">60</text>
<text class="ls r" x="116" y="132">工程开工</text>
<text class="ls r" x="3971" y="318">工程完工</text>
<text class="l" x="1557" y="289">3#10#联络线开挖及初期支护施工</text><text class="d" x="1556" y="307">316</text>
<text class="l" x="1730" y="348">3#10#联络线防水及二次衬砌施工</text><text class="d" x="1730" y="365">286</text>
<text class="l" x="277" y="376">有线电视台站施工准备</text><text class="d" x="278" y="394">95</text>
<text class="l" x="775" y="376">有线电视台站主体围护结构施工</text><text class="d" x="774" y="394">180</text>
<text class="l" x="1387" y="434">有线电视台站基坑开挖及支撑施工</text><text class="d" x="1387" y="452">220</text>
<text class="l" x="1558" y="463">有线电视台站北端头结构施工</text><text class="d" x="1558" y="481">200</text>
<text class="ls" x="1826" y="452">有线电视台站提供有梅区间盾构始发场地</text>
<text class="l" x="1980" y="493">有线电视台~梅林东站区间施工准备</text><text class="d" x="1981" y="511">90</text>
<text class="l" x="2251" y="493">有~梅区间右线盾构组装调试</text><text class="d" x="2250" y="511">60</text>
<text class="l" x="2517" y="493">有~梅区间右线盾构掘进</text><text class="d" x="2517" y="511">88</text>
<text class="l" x="2729" y="467">有~梅区间右线</text><text class="l" x="2729" y="480">盾构接收、转</text><text class="l" x="2729" y="492">场</text><text class="d" x="2730" y="511">30</text>
<text class="l" x="2838" y="480">有~梅区间左线</text><text class="l" x="2838" y="492">盾构组装调试</text><text class="d" x="2838" y="511">30</text>
<text class="l" x="3055" y="493">有~梅区间左线盾构掘进</text><text class="d" x="3050" y="511">88</text>
<text class="l" x="3263" y="468">有~梅区间左线</text><text class="l" x="3263" y="480">盾构接收、转</text><text class="l" x="3263" y="492">场</text><text class="d" x="3263" y="511">30</text>
<text class="l" x="3362" y="550">有~梅区间联络通道及泵房施工</text><text class="d" x="3362" y="568">80</text>
<text class="l" x="278" y="608">梅林东站施工准备</text><text class="d" x="278" y="626">95</text>
<text class="l" x="739" y="608">梅林东站主体围护结构施工</text><text class="d" x="739" y="626">160</text>
<text class="l" x="2053" y="608">有线电视台站剩余主体结构施工</text><text class="d" x="2052" y="626">310</text>
<text class="l" x="2853" y="608">有线电视台站风亭施工</text><text class="d" x="2852" y="626">90</text>
<text class="l" x="2716" y="626">有线电视台站土方回填及路面恢复交</text><text class="l" x="2716" y="638">通</text><text class="d" x="2715" y="655">60</text>
<text class="d" x="2755" y="664">60</text><text class="l" x="2756" y="716">有线电视台站内部结构施工</text>
<text class="l" x="3268" y="608">有线电视台站附属结构施工</text><text class="d" x="3268" y="627">180</text>
<text class="ls" x="3861" y="597">有线电视台站土建主体结构完成</text>
<text class="l" x="1459" y="694">梅林东站基坑开挖及支撑施工</text><text class="d" x="1459" y="713">300</text>
<text class="l" x="1279" y="737">梅林东站南端头结构施工</text><text class="d" x="1279" y="771">100</text>
<text class="ls" x="1486" y="782">梅林东站提供有梅区间盾构接收场地</text>
<text class="l" x="1772" y="782">梅林东站剩余主体结构施工</text><text class="d" x="1772" y="800">286</text>
<text class="l" x="2303" y="772">梅林东站内部结构施工</text><text class="d" x="2304" y="800">60</text>
<text class="d" x="2405" y="780">60</text><text class="l" x="2405" y="831">梅林东站土方回填及路面恢复交通</text>
<text class="l" x="2507" y="769">梅林东站二期</text><text class="l" x="2507" y="782">挡及交通疏解</text><text class="d" x="2506" y="800">30</text>
<text class="l" x="2891" y="782">梅林东站附属结构施工</text><text class="d" x="2891" y="800">178</text>
<text class="ls" x="3861" y="771">梅林东站土建主体结构完成</text>
<text class="l" x="277" y="840">梅林东站~创新园站区间施工准备</text><text class="d" x="278" y="858">95</text>
<text class="l" x="613" y="840">梅~创区间竖井及横通道施工</text><text class="d" x="613" y="858">90</text>
<text class="l" x="1513" y="840">梅~创区间开挖及初支施工</text><text class="d" x="1513" y="858">410</text>
<text class="l" x="1675" y="898">梅~创区间二衬结构及防水施工</text><text class="d" x="1674" y="916">380</text>
<text class="l" x="2412" y="887">梅~创区间联络</text><text class="l" x="2412" y="898">通道施工</text><text class="d" x="2413" y="916">30</text>
<text class="l" x="2538" y="887">梅~创区间竖井回填及</text><text class="l" x="2538" y="898">地面恢复交通</text><text class="d" x="2538" y="916">35</text>
<text class="l" x="618" y="1042">9#10#联络线桩基托换</text><text class="d" x="617" y="1061">90</text>
<text class="l" x="1188" y="956">9#10#联络线开挖及初期支护</text><text class="d" x="1189" y="974">230</text>
<text class="l" x="1342" y="1014">9#10#联络线二衬结构及防水施工</text><text class="d" x="1341" y="1031">200</text>
<text class="l" x="2266" y="1071">梅~创区间（TBM空推段）开挖及初支施工</text><text class="d" x="2267" y="1090">385</text>
<text class="l" x="826" y="1130">梅~创区间TBM竖井施工</text><text class="d" x="826" y="1148">210</text>
<text class="l" x="2388" y="1130">梅~创区间左线TBM始发掘进</text><text class="d" x="2386" y="1148">425</text>
<text class="l" x="1097" y="1217">梅~创区间1#风井施工</text><text class="d" x="1097" y="1235">360</text>
<text class="l" x="1097" y="1274">梅~创区间2#风井施工</text><text class="d" x="1097" y="1293">360</text>
<text class="l" x="2602" y="1246">梅~创区间右线TBM始发掘进</text><text class="d" x="2602" y="1264">425</text>
<text class="l" x="762" y="1332">梅~创区间TBM设计、制造及到场</text><text class="d" x="762" y="1351">360</text>
<text class="d" x="1513" y="1302">60</text><text class="l" x="1513" y="1353">梅~创区间左线TBM组装调试</text>
<text class="d" x="1736" y="1302">60</text><text class="l" x="1740" y="1353">梅~创区间右线TBM组装调试</text>
<text class="l" x="3206" y="1118">梅~创区间左线</text><text class="l" x="3206" y="1130">TBM接收</text><text class="d" x="3206" y="1148">30</text>
<text class="l" x="3420" y="1118">梅~创区间右线</text><text class="l" x="3420" y="1130">TBM接收</text><text class="d" x="3421" y="1148">30</text>
<text class="l" x="3521" y="1188">梅~创区间联络通道及泵房施工</text><text class="d" x="3521" y="1206">80</text>
</g>
<g id="lags">
<text class="g" x="2473" y="191">-701</text><text class="g" x="3911" y="249">35</text><text class="g" x="1673" y="336">-256</text>
<text class="g" x="1049" y="423">-30</text><text class="g" x="1050" y="481">30</text><text class="g" x="1644" y="597">-80</text>
<text class="g" x="979" y="712">-30</text><text class="g" x="1015" y="771">50</text><text class="g" x="1158" y="800">30</text>
<text class="g" x="2122" y="829">66</text><text class="g" x="2886" y="655">30</text><text class="g" x="3268" y="538">-30</text>
<text class="g" x="1627" y="888">-350</text><text class="g" x="1293" y="1003">-175</text><text class="g" x="1056" y="1090">334</text>
<text class="g" x="2094" y="1031">210</text><text class="g" x="2417" y="945">30</text><text class="g" x="1310" y="1321">55</text>
<text class="g" x="3100" y="1119">31</text><text class="g" x="3208" y="1235">91</text><text class="g" x="3318" y="1148">30</text><text class="g" x="3424" y="1177">-30</text>
</g>
<g id="nodes">
<g id="m-start"><use href="#st" x="116" y="148"/></g>
<g id="m-end"><use href="#st" x="4060" y="264"/></g>
<g id="m-a"><use href="#st" x="1824" y="467"/></g>
<g id="m-b"><use href="#st" x="4060" y="613"/></g>
<g id="m-c"><use href="#st" x="1463" y="757"/></g>
<g id="m-d"><use href="#st" x="4060" y="787"/></g>
<polygon points="3852,258 3856,249 3864,249 3860,258" fill="#f00"/>
<g id="n1" class="nd nr"><circle cx="456" cy="148" r="8.5"/><text x="456" y="151.5">1</text></g>
<g id="n11" class="nd nr"><circle cx="996" cy="148" r="8.5"/><text x="996" y="151.5">11</text></g>
<g id="n18" class="nd nr"><circle cx="3736" cy="148" r="8.5"/><text x="3736" y="151.5">18</text></g>
<g id="n19" class="nd nr"><circle cx="1212" cy="206" r="8.5"/><text x="1212" y="209.5">19</text></g>
<g id="n59" class="nd nr"><circle cx="3843" cy="206" r="8.5"/><text x="3843" y="209.5">59</text></g>
<g id="n60" class="nd nr"><circle cx="3970" cy="206" r="8.5"/><text x="3970" y="209.5">60</text></g>
<g id="n61" class="nd nr"><circle cx="3844" cy="264" r="8.5"/><text x="3844" y="267.5">61</text></g>
<g id="n20" class="nd"><circle cx="2133" cy="293" r="8.5"/><text x="2133" y="296.5">20</text></g>
<g id="n21" class="nd"><circle cx="1212" cy="352" r="8.5"/><text x="1212" y="355.5">21</text></g>
<g id="n2" class="nd"><circle cx="456" cy="380" r="8.5"/><text x="456" y="383.5">2</text></g>
<g id="n12" class="nd"><circle cx="1104" cy="380" r="8.5"/><text x="1104" y="383.5">12</text></g>
<g id="n13" class="nd"><circle cx="996" cy="438" r="8.5"/><text x="996" y="441.5">13</text></g>
<g id="n25" class="nd"><circle cx="1788" cy="438" r="8.5"/><text x="1788" y="441.5">25</text></g>
<g id="n16" class="nd"><circle cx="1104" cy="467" r="8.5"/><text x="1104" y="470.5">16</text></g>
<g id="n33" class="nd"><circle cx="1824" cy="497" r="8.5"/><text x="1824" y="500.5">33</text></g>
<g id="n36" class="nd"><circle cx="2149" cy="497" r="8.5"/><text x="2149" y="500.5">36</text></g>
<g id="n38" class="nd"><circle cx="2363" cy="497" r="8.5"/><text x="2363" y="500.5">38</text></g>
<g id="n44" class="nd"><circle cx="2680" cy="497" r="8.5"/><text x="2680" y="500.5">44</text></g>
<g id="n45" class="nd"><circle cx="2789" cy="497" r="8.5"/><text x="2789" y="500.5">45</text></g>
<g id="n47" class="nd"><circle cx="2898" cy="497" r="8.5"/><text x="2898" y="500.5">47</text></g>
<g id="n51" class="nd"><circle cx="3213" cy="497" r="8.5"/><text x="3213" y="500.5">51</text></g>
<g id="n52" class="nd"><circle cx="3321" cy="497" r="8.5"/><text x="3321" y="500.5">52</text></g>
<g id="n53" class="nd"><circle cx="3213" cy="554" r="8.5"/><text x="3213" y="557.5">53</text></g>
<g id="n3" class="nd"><circle cx="456" cy="612" r="8.5"/><text x="456" y="615.5">3</text></g>
<g id="n7" class="nd"><circle cx="1033" cy="612" r="8.5"/><text x="1033" y="615.5">7</text></g>
<g id="n26" class="nd"><circle cx="1499" cy="612" r="8.5"/><text x="1499" y="615.5">26</text></g>
<g id="n43" class="nd"><circle cx="2616" cy="612" r="8.5"/><text x="2616" y="615.5">43</text></g>
<g id="n48" class="nd"><circle cx="2940" cy="612" r="8.5"/><text x="2940" y="615.5">48</text></g>
<g id="n46" class="nd"><circle cx="2832" cy="641" r="8.5"/><text x="2832" y="644.5">46</text></g>
<g id="n8" class="nd"><circle cx="925" cy="699" r="8.5"/><text x="925" y="702.5">8</text></g>
<g id="n35" class="nd"><circle cx="2005" cy="699" r="8.5"/><text x="2005" y="702.5">35</text></g>
<g id="n17" class="nd"><circle cx="1104" cy="757" r="8.5"/><text x="1104" y="760.5">17</text></g>
<g id="n22" class="nd"><circle cx="1212" cy="787" r="8.5"/><text x="1212" y="790.5">22</text></g>
<g id="n37" class="nd"><circle cx="2242" cy="787" r="8.5"/><text x="2242" y="790.5">37</text></g>
<g id="n40" class="nd"><circle cx="2457" cy="787" r="8.5"/><text x="2457" y="790.5">40</text></g>
<g id="n42" class="nd"><circle cx="2564" cy="787" r="8.5"/><text x="2564" y="790.5">42</text></g>
<g id="n4" class="nd"><circle cx="456" cy="845" r="8.5"/><text x="456" y="848.5">4</text></g>
<g id="n5" class="nd"><circle cx="780" cy="845" r="8.5"/><text x="780" y="848.5">5</text></g>
<g id="n14" class="nd"><circle cx="2256" cy="845" r="8.5"/><text x="2256" y="848.5">14</text></g>
<g id="n15" class="nd"><circle cx="997" cy="902" r="8.5"/><text x="997" y="905.5">15</text></g>
<g id="n39" class="nd"><circle cx="2364" cy="902" r="8.5"/><text x="2364" y="905.5">39</text></g>
<g id="n41" class="nd"><circle cx="2473" cy="902" r="8.5"/><text x="2473" y="905.5">41</text></g>
<g id="n6" class="nd"><circle cx="780" cy="960" r="8.5"/><text x="780" y="963.5">6</text></g>
<g id="n9" class="nd"><circle cx="1609" cy="960" r="8.5"/><text x="1609" y="963.5">9</text></g>
<g id="n10" class="nd"><circle cx="985" cy="1018" r="8.5"/><text x="985" y="1021.5">10</text></g>
<g id="n31" class="nd"><circle cx="1716" cy="1018" r="8.5"/><text x="1716" y="1021.5">31</text></g>
<g id="n30" class="nd"><circle cx="1658" cy="1076" r="8.5"/><text x="1658" y="1079.5">30</text></g>
<g id="n49" class="nd"><circle cx="3044" cy="1076" r="8.5"/><text x="3044" y="1079.5">49</text></g>
<g id="n23" class="nd"><circle cx="1212" cy="1134" r="8.5"/><text x="1212" y="1137.5">23</text></g>
<g id="n29" class="nd"><circle cx="1627" cy="1134" r="8.5"/><text x="1627" y="1137.5">29</text></g>
<g id="n50" class="nd"><circle cx="3157" cy="1134" r="8.5"/><text x="3157" y="1137.5">50</text></g>
<g id="n54" class="nd"><circle cx="3265" cy="1134" r="8.5"/><text x="3265" y="1137.5">54</text></g>
<g id="n56" class="nd"><circle cx="3373" cy="1134" r="8.5"/><text x="3373" y="1137.5">56</text></g>
<g id="n57" class="nd"><circle cx="3480" cy="1134" r="8.5"/><text x="3480" y="1137.5">57</text></g>
<g id="n58" class="nd"><circle cx="3373" cy="1192" r="8.5"/><text x="3373" y="1195.5">58</text></g>
<g id="n28" class="nd"><circle cx="1754" cy="1221" r="8.5"/><text x="1754" y="1224.5">28</text></g>
<g id="n34" class="nd"><circle cx="1842" cy="1251" r="8.5"/><text x="1842" y="1254.5">34</text></g>
<g id="n55" class="nd"><circle cx="3373" cy="1250" r="8.5"/><text x="3373" y="1253.5">55</text></g>
<g id="n32" class="nd"><circle cx="1754" cy="1279" r="8.5"/><text x="1754" y="1282.5">32</text></g>
<g id="n24" class="nd"><circle cx="1410" cy="1308" r="8.5"/><text x="1410" y="1311.5">24</text></g>
<g id="n27" class="nd"><circle cx="1627" cy="1308" r="8.5"/><text x="1627" y="1311.5">27</text></g>
</g>
</svg>
